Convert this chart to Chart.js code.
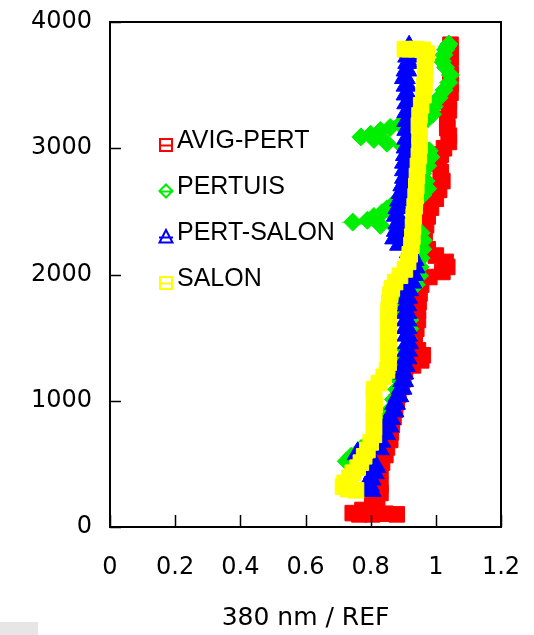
<!DOCTYPE html>
<html>
<head>
<meta charset="utf-8">
<script src="https://cdn.jsdelivr.net/npm/chart.js@4"></script>
<style>
  html, body { margin: 0; padding: 0; background: #fff; }
  #wrap { position: relative; width: 534px; height: 635px; }
  #gray { position: absolute; left: 0; top: 622px; width: 38px; height: 13px; background: #e6e6e6; }
</style>
</head>
<body>
<div id="wrap">
  <canvas id="c" width="534" height="635"></canvas>
  <div id="gray"></div>
</div>
<script>
// ---------- DATA ----------
const seriesNames = ['AVIG-PERT', 'PERTUIS', 'PERT-SALON', 'SALON'];
const xTickLabels = ['0', '0.2', '0.4', '0.6', '0.8', '1', '1.2'];
const yTickLabels = ['0', '1000', '2000', '3000', '4000'];
const xTitle = '380 nm / REF';

// AVIG-PERT
const avigAlt = [100,105,100,100,110,135,175,220,270,330,390,450,510,570,630,690,750,810,870,930,990,1050,1110,1170,1230,1280,1320,1360,1400,1450,1510,1570,1640,1710,1780,1850,1920,1980,2020,2060,2100,2150,2200,2260,2320,2390,2460,2530,2600,2670,2740,2810,2880,2950,3000,3050,3100,3160,3230,3300,3370,3440,3510,3580,3650,3720,3780,3820];
const avigVal = [0.88,0.845,0.805,0.765,0.745,0.775,0.805,0.82,0.83,0.83,0.825,0.83,0.835,0.845,0.85,0.86,0.862,0.865,0.87,0.875,0.88,0.885,0.895,0.9,0.905,0.93,0.955,0.96,0.945,0.935,0.935,0.94,0.945,0.945,0.947,0.95,0.955,0.98,1.02,1.035,1.03,1.0,0.975,0.965,0.965,0.97,0.975,0.985,1.0,1.01,1.02,1.015,1.01,1.015,1.025,1.04,1.04,1.035,1.035,1.04,1.04,1.045,1.045,1.045,1.045,1.045,1.045,1.045];

// PERTUIS
const pertAlt = [520,560,620,690,770,850,930,1010,1090,1170,1250,1330,1410,1490,1570,1640,1710,1780,1850,1920,1990,2060,2130,2200,2270,2330,2360,2390,2415,2430,2460,2490,2520,2560,2600,2630,2680,2740,2800,2860,2930,2980,3010,3040,3070,3090,3110,3140,3165,3190,3220,3270,3330,3400,3460,3520,3580,3640,3690,3740,3780,3805,3825];
const pertVal = [0.725,0.74,0.77,0.8,0.825,0.845,0.86,0.87,0.88,0.885,0.89,0.895,0.905,0.915,0.92,0.92,0.895,0.89,0.905,0.94,0.95,0.952,0.955,0.96,0.962,0.955,0.88,0.83,0.745,0.79,0.81,0.835,0.85,0.87,0.9,0.96,0.975,0.97,0.96,0.975,0.985,0.98,0.9,0.85,0.81,0.77,0.8,0.83,0.86,0.89,0.97,0.99,0.995,1.01,1.025,1.04,1.045,1.03,1.02,1.025,1.03,1.035,1.04];

// PERT-SALON
const psAlt = [290,330,380,430,480,540,580,620,680,740,800,860,920,980,1040,1100,1160,1220,1280,1340,1400,1460,1520,1580,1640,1700,1760,1820,1880,1940,2000,2060,2120,2180,2240,2290,2350,2410,2470,2530,2590,2650,2710,2770,2830,2890,2950,3010,3080,3150,3220,3290,3360,3430,3500,3560,3620,3680,3730,3770,3800];
const psVal = [0.8,0.795,0.8,0.81,0.815,0.77,0.76,0.825,0.83,0.845,0.855,0.86,0.87,0.875,0.885,0.895,0.9,0.9,0.905,0.91,0.912,0.915,0.912,0.91,0.91,0.91,0.91,0.912,0.915,0.925,0.93,0.935,0.932,0.92,0.89,0.875,0.88,0.885,0.88,0.885,0.89,0.895,0.9,0.905,0.905,0.905,0.908,0.91,0.912,0.912,0.912,0.912,0.912,0.91,0.91,0.905,0.91,0.915,0.915,0.918,0.918];

// SALON
const salAlt = [290,300,320,350,390,430,470,510,560,610,670,730,790,850,910,970,1030,1090,1140,1190,1240,1300,1360,1420,1480,1540,1600,1660,1720,1780,1840,1890,1940,1990,2040,2100,2160,2230,2300,2380,2460,2540,2620,2700,2780,2860,2940,3020,3100,3180,3260,3340,3420,3500,3580,3650,3710,3750,3780,3785,3785,3785];
const salVal = [0.755,0.73,0.715,0.72,0.735,0.745,0.76,0.77,0.78,0.79,0.8,0.81,0.81,0.81,0.81,0.812,0.81,0.81,0.825,0.84,0.85,0.855,0.855,0.855,0.855,0.855,0.855,0.855,0.855,0.857,0.86,0.865,0.875,0.89,0.905,0.915,0.92,0.925,0.928,0.93,0.932,0.935,0.938,0.94,0.942,0.945,0.948,0.95,0.95,0.948,0.95,0.955,0.962,0.965,0.967,0.967,0.967,0.972,0.96,0.94,0.92,0.905];

// ---------- STYLE ----------
const colors = ['#ff0000', '#00ee00', '#0000ff', '#ffff00'];
const styles = ['rect', 'rectRot', 'triangle', 'rect'];
const radii = [11, 9, 12, 11];
const drawOrder = [4, 3, 2, 1];

const seriesAlt = [avigAlt, pertAlt, psAlt, salAlt];
const seriesVal = [avigVal, pertVal, psVal, salVal];

const datasets = seriesNames.map((name, i) => ({
  label: name,
  data: seriesVal[i].map((v, k) => ({ x: v, y: seriesAlt[i][k] })),
  showLine: true,
  borderColor: colors[i],
  borderWidth: 3,
  pointStyle: styles[i],
  pointRadius: radii[i],
  pointBackgroundColor: colors[i],
  pointBorderColor: colors[i],
  pointBorderWidth: 1,
  order: drawOrder[i],
  clip: false
}));

const framePlugin = {
  id: 'frame',
  afterDatasetsDraw(chart) {
    const { ctx, chartArea: a, scales } = chart;
    ctx.save();
    ctx.strokeStyle = '#000';
    ctx.lineWidth = 2;
    ctx.strokeRect(a.left, a.top, a.right - a.left, a.bottom - a.top);
    ctx.lineWidth = 1.5;
    ctx.beginPath();
    scales.x.ticks.forEach(t => {
      const px = Math.round(scales.x.getPixelForValue(t.value)) + 0.5;
      ctx.moveTo(px, a.bottom);
      ctx.lineTo(px, a.bottom - 12);
    });
    scales.y.ticks.forEach(t => {
      const py = Math.round(scales.y.getPixelForValue(t.value)) + 0.5;
      ctx.moveTo(a.left, py);
      ctx.lineTo(a.left + 11, py);
    });
    ctx.stroke();
    ctx.restore();
  }
};

const legendPlugin = {
  id: 'inlegend',
  afterDraw(chart) {
    const ctx = chart.ctx;
    const ds = chart.data.datasets;
    ctx.save();
    ctx.font = '25px "Liberation Sans", Arial, sans-serif';
    ctx.textBaseline = 'middle';
    ctx.textAlign = 'left';
    ds.forEach((d, i) => {
      const ty = 141 + i * 46;
      const my = ty + 4;
      const mx = 166;
      ctx.strokeStyle = d.borderColor;
      ctx.lineWidth = 2;
      ctx.beginPath();
      if (d.pointStyle === 'rect') {
        ctx.rect(mx - 6, my - 6, 12, 12);
      } else if (d.pointStyle === 'rectRot') {
        ctx.moveTo(mx, my - 6.5); ctx.lineTo(mx + 6.5, my);
        ctx.lineTo(mx, my + 6.5); ctx.lineTo(mx - 6.5, my); ctx.closePath();
      } else {
        ctx.moveTo(mx, my - 7); ctx.lineTo(mx + 6.5, my + 5.5);
        ctx.lineTo(mx - 6.5, my + 5.5); ctx.closePath();
      }
      ctx.moveTo(mx - 7, my + 0.5); ctx.lineTo(mx + 7, my + 0.5);
      ctx.stroke();
      ctx.fillStyle = '#000';
      ctx.fillText(d.label, 177, ty);
    });
    ctx.restore();
  }
};

const tickFont = { family: '"DejaVu Sans", sans-serif', size: 24 };

new Chart(document.getElementById('c'), {
  type: 'scatter',
  data: { datasets },
  options: {
    responsive: false,
    animation: false,
    events: [],
    layout: { padding: { top: 22, right: 33, left: 0, bottom: 0 } },
    plugins: { legend: { display: false }, tooltip: { enabled: false } },
    scales: {
      x: {
        type: 'linear', min: 0, max: 1.2,
        ticks: {
          stepSize: 0.2, autoSkip: false, maxRotation: 0,
          callback: (v, i) => xTickLabels[i],
          font: tickFont, color: '#000', padding: 26
        },
        grid: { display: false, drawTicks: false },
        border: { display: false },
        title: {
          display: true, text: xTitle, color: '#000',
          font: { family: '"DejaVu Sans", sans-serif', size: 25 },
          padding: { top: 0, bottom: 2 }
        },
        afterFit: s => { s.height = 108; s.paddingLeft = 0; s.paddingRight = 0; }
      },
      y: {
        type: 'linear', min: 0, max: 4000,
        ticks: {
          stepSize: 1000, autoSkip: false,
          callback: (v, i) => yTickLabels[i],
          font: tickFont, color: '#000', padding: 18
        },
        grid: { display: false, drawTicks: false },
        border: { display: false },
        afterFit: s => { s.width = 110; s.paddingTop = 0; s.paddingBottom = 0; }
      }
    }
  },
  plugins: [framePlugin, legendPlugin]
});
</script>
</body>
</html>
